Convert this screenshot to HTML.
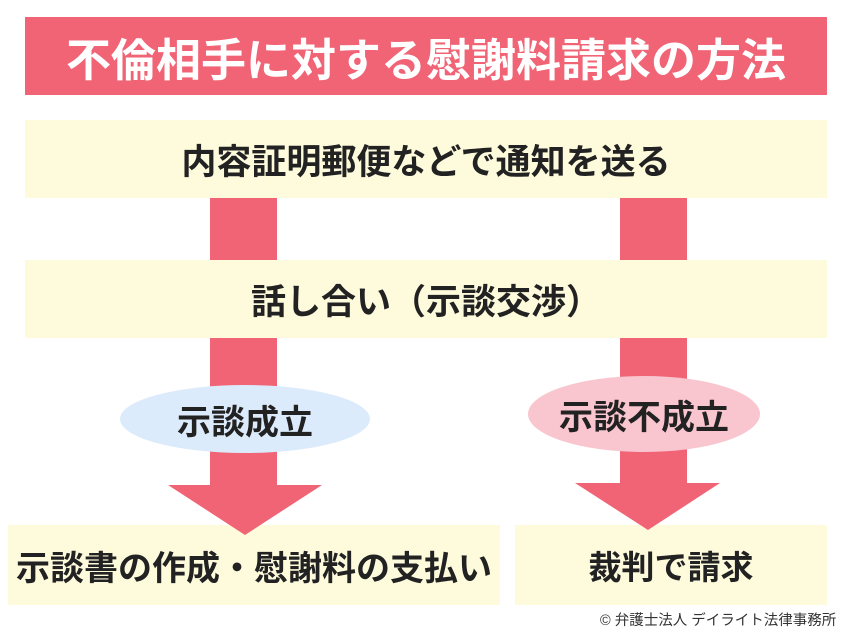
<!DOCTYPE html>
<html><head><meta charset="utf-8"><style>
html,body{margin:0;padding:0;background:#fff;}
body{width:850px;height:633px;position:relative;overflow:hidden;font-family:"Liberation Sans","Noto Sans CJK JP",sans-serif;font-weight:bold;color:#222;}
.a{position:absolute;}
.box{background:#fefbdd;display:flex;align-items:center;justify-content:center;font-size:34px;white-space:nowrap;}
.bar{background:#f06475;}
</style></head><body>
<div class="a" style="left:25px;top:17px;width:802px;height:78px;background:#f06475;color:#fff;font-size:45px;display:flex;align-items:center;justify-content:center;white-space:nowrap;">不倫相手に対する慰謝料請求の方法</div>
<div class="a box" style="left:25px;top:120px;width:802px;height:78px;font-size:35px;">内容証明郵便などで通知を送る</div>
<div class="a bar" style="left:210px;top:198px;width:67px;height:62px;"></div>
<div class="a bar" style="left:620px;top:198px;width:67px;height:62px;"></div>
<div class="a box" style="left:25px;top:260px;width:802px;height:78px;font-size:35px;">話し合い（示談交渉）</div>
<div class="a bar" style="left:210px;top:338px;width:67px;height:150px;"></div>
<div class="a bar" style="left:620px;top:338px;width:67px;height:148px;"></div>
<div class="a box" style="left:8px;top:525px;width:492px;height:80px;font-size:34px;">示談書の作成・慰謝料の支払い</div>
<div class="a box" style="left:515px;top:525px;width:312px;height:80px;font-size:33px;">裁判で請求</div>
<svg class="a" style="left:0;top:0" width="850" height="633">
<polygon points="168,485 322,485 245,535" fill="#f06475"/>
<polygon points="575,483 720,483 648,530" fill="#f06475"/>
</svg>
<div class="a" style="left:120px;top:385px;width:250px;height:68px;border-radius:50%;background:#dcebfb;display:flex;align-items:center;justify-content:center;font-size:34px;">示談成立</div>
<div class="a" style="left:528px;top:376px;width:232px;height:76px;border-radius:50%;background:#f9c5cf;display:flex;align-items:center;justify-content:center;font-size:34px;">示談不成立</div>
<div class="a" style="left:600px;top:609px;width:235px;font-size:14.5px;font-weight:normal;color:#333;text-align:right;white-space:nowrap;">© 弁護士法人 デイライト法律事務所</div>
</body></html>
